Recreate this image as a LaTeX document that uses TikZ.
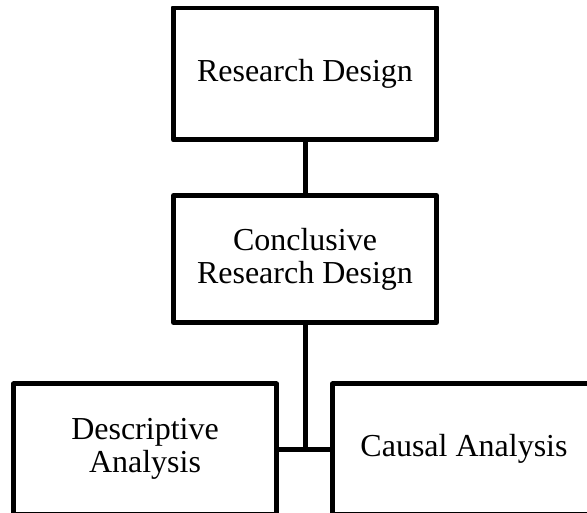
\documentclass[tikz,border=0pt]{standalone}
\usepackage{fontspec}
\setmainfont{Liberation Serif}
\begin{document}
\begin{tikzpicture}[x=1pt,y=-1pt,
  box/.style={draw=black, line width=5pt, line join=round, fill=white,
    minimum width=263pt, align=center, inner sep=0pt,
    font=\fontsize{32}{33}\selectfont},
  link/.style={draw=black, line width=5pt}]
\useasboundingbox (0,0) rectangle (587,513);

% boxes
\node[box, minimum height=132pt] (rd) at (305,74) {Research Design};
\node[box, minimum height=127pt] (crd) at (305,259) {Conclusive\\Research Design};
\node[box, minimum height=130pt] (da) at (145,449) {Descriptive\\Analysis};
\node[box, minimum height=130pt] (ca) at (464,449) {Causal Analysis};

% double rule along the top edge of the first box
\draw[white, line width=1.3pt] ([xshift=-3pt]rd.north west) -- ([xshift=3pt]rd.north east);

% connectors
\coordinate (j) at (crd.south |- da.east);
\draw[link] (rd.south) -- (crd.north);
\draw[link] (crd.south) -- (j);
\draw[link] (da.east) -- (ca.west);
\end{tikzpicture}
\end{document}
